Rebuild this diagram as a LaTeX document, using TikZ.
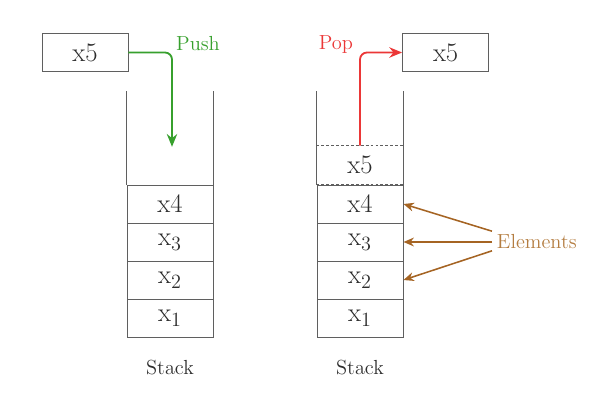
\documentclass[tikz,border=0pt]{standalone}
\usepackage{tikz}
\usetikzlibrary{arrows.meta,positioning,calc}
\definecolor{wall}{RGB}{95,95,95}
\definecolor{ink}{RGB}{45,45,45}
\definecolor{pushgreen}{RGB}{55,160,45}
\definecolor{popred}{RGB}{235,55,55}
\definecolor{elembrown}{RGB}{165,100,35}
\definecolor{elemtext}{RGB}{180,125,65}

\begin{document}
\begin{tikzpicture}[
    cell/.style={draw=wall,line width=0.7pt,minimum width=21.5mm,minimum height=9.5mm,
      inner sep=0pt,text=ink,font=\fontsize{19}{22}\selectfont},
    ghost/.style={cell,draw=none},
    lbl/.style={font=\fontsize{14.5}{17}\selectfont},
    flow/.style={line width=1.3pt,rounded corners=5pt,-{Stealth[length=3.2mm,width=2.6mm]}}
  ]
    \useasboundingbox (0,0) rectangle (14.9,-10.05);
    % both stacks, bottom to top
    \foreach \s/\x in {l/4.25,r/9.0}
    {
      \foreach \t [count=\i] in {x$_1$,x$_2$,x$_3$,x4}
      {
        \pgfmathsetmacro{\y}{-7.95+(\i-1)*0.95}
        \node[cell] (\s\i) at (\x,\y) {\t};
      }
      \node[lbl,text=ink] (st\s) at (\x,-9.2) {Stack};
      \coordinate (\s tl) at ($(\s4.north west)+(0,2.35)$);
      \coordinate (\s tr) at ($(\s4.north east)+(0,2.35)$);
      \draw[wall,line width=0.7pt] (\s4.north west) -- (\s tl);
      \draw[wall,line width=0.7pt] (\s4.north east) -- (\s tr);
    }
    % element leaving the right stack
    \node[ghost,above=0pt of r4] (r5) {x5};
    \draw[wall,line width=0.7pt,dashed,dash pattern=on 2pt off 1.5pt] (r5.north west) -- (r5.north east);
    \draw[wall,line width=0.7pt,dashed,dash pattern=on 2pt off 1.5pt] (r5.south west) -- (r5.south east);

    \node[cell] (inbox) at (2.125,-1.3125) {x5};
    \node[cell] (outbox) at (11.14,-1.3125) {x5};
    \coordinate (drop) at (4.3,-3.67);
    \draw[flow,pushgreen] (inbox.east) -| (drop);
    \node[lbl,text=pushgreen] (push) at (4.95,-1.1) {Push};
    \draw[flow,popred] (r5.north) |- (outbox.west);
    \node[lbl,text=popred] (pop) at (8.4,-1.12) {Pop};

    \node[lbl,text=elemtext] (elem) at (13.42,-6.05) {Elements};
    \draw[flow,elembrown,line width=1.1pt,-{Stealth[length=2.6mm,width=2.2mm]}] ($(elem.west)+(0,0.27)$) -- (r4.east);
    \draw[flow,elembrown,line width=1.1pt,-{Stealth[length=2.6mm,width=2.2mm]}] (elem.west) -- (r3.east);
    \draw[flow,elembrown,line width=1.1pt,-{Stealth[length=2.6mm,width=2.2mm]}] ($(elem.west)+(0,-0.22)$) -- (r2.east);
  \end{tikzpicture}
\end{document}
